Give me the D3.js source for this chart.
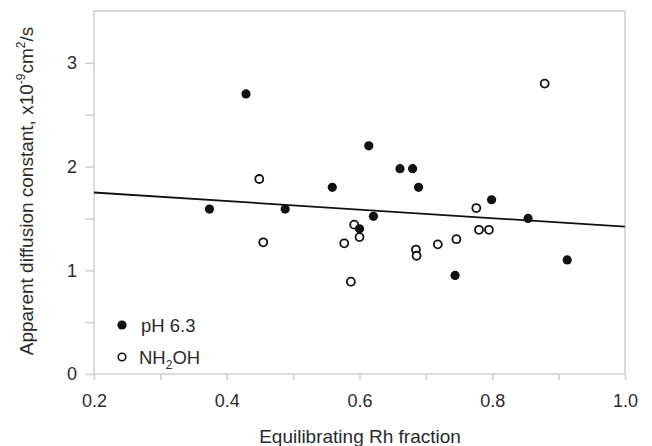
<!DOCTYPE html>
<html>
<head>
<meta charset="utf-8">
<script src="https://cdn.jsdelivr.net/npm/d3@7"></script>
<style>
  html, body { margin: 0; padding: 0; background: #fff; }
  svg { display: block; font-family: "Liberation Sans", Arial, sans-serif; }
</style>
</head>
<body>
<svg id="chart" width="652" height="446"></svg>
<script>
// ---- data ----
const phX = [0.374, 0.429, 0.488, 0.559, 0.600, 0.614, 0.621, 0.661, 0.680, 0.689, 0.744, 0.799, 0.854, 0.913];
const phY = [1.59, 2.70, 1.59, 1.80, 1.40, 2.20, 1.52, 1.98, 1.98, 1.80, 0.95, 1.68, 1.50, 1.10];
const nhX = [0.449, 0.455, 0.577, 0.587, 0.592, 0.600, 0.685, 0.686, 0.718, 0.746, 0.776, 0.780, 0.795, 0.879];
const nhY = [1.88, 1.27, 1.26, 0.89, 1.44, 1.32, 1.20, 1.14, 1.25, 1.30, 1.60, 1.39, 1.39, 2.80];
const fitX = [0.2, 1.0];
const fitY = [1.75, 1.42];
const xTicks = [0.2, 0.3, 0.4, 0.5, 0.6, 0.7, 0.8, 0.9, 1.0];
const xTickLabels = ["0.2", "", "0.4", "", "0.6", "", "0.8", "", "1.0"];
const yTicks = [0, 0.5, 1, 1.5, 2, 2.5, 3];
const yTickLabels = ["0", "", "1", "", "2", "", "3"];
const legendLabels = ["pH 6.3", "NH2OH"];

// ---- layout ----
const svg = d3.select("#chart");
const L = 94, R = 625, T = 11, B = 374;
const x = d3.scaleLinear().domain([0.2, 1.0]).range([L, R]);
const y = d3.scaleLinear().domain([0, 3.5]).range([B, T]);
const frameColor = "#cfcfcf";
const textColor = "#2b2b2b";
const ff = "Liberation Sans, Arial, sans-serif";

// frame
svg.append("rect").attr("x", L).attr("y", T).attr("width", R - L).attr("height", B - T)
  .attr("fill", "none").attr("stroke", frameColor).attr("stroke-width", 1.5);

// x axis
const xAxis = d3.axisBottom(x).tickValues(xTicks).tickSize(6).tickPadding(14)
  .tickFormat((d, i) => xTickLabels[i]);
const gx = svg.append("g").attr("transform", `translate(0,${B})`).call(xAxis);
gx.select(".domain").remove();
gx.selectAll(".tick line").attr("stroke", frameColor).attr("stroke-width", 1.5);
gx.selectAll(".tick text").attr("fill", textColor).attr("font-size", 18).attr("font-family", ff);

// y axis
const yAxis = d3.axisLeft(y).tickValues(yTicks).tickSize(9).tickPadding(8)
  .tickFormat((d, i) => yTickLabels[i]);
const gy = svg.append("g").attr("transform", `translate(${L},0)`).call(yAxis);
gy.select(".domain").remove();
gy.selectAll(".tick line").attr("stroke", frameColor).attr("stroke-width", 1.5);
gy.selectAll(".tick text").attr("fill", textColor).attr("font-size", 18).attr("font-family", ff);

// fit line
const fit = fitX.map((v, i) => [v, fitY[i]]);
svg.append("path").datum(fit)
  .attr("d", d3.line().x(d => x(d[0])).y(d => y(d[1])))
  .attr("stroke", "#111").attr("stroke-width", 1.8).attr("fill", "none");

// points
const ph = phX.map((v, i) => [v, phY[i]]);
const nh = nhX.map((v, i) => [v, nhY[i]]);
svg.append("g").selectAll("circle").data(nh).join("circle")
  .attr("cx", d => x(d[0])).attr("cy", d => y(d[1])).attr("r", 4)
  .attr("fill", "#fff").attr("stroke", "#111").attr("stroke-width", 1.8);
svg.append("g").selectAll("circle").data(ph).join("circle")
  .attr("cx", d => x(d[0])).attr("cy", d => y(d[1])).attr("r", 4.6)
  .attr("fill", "#111");

// legend
const lg = svg.append("g");
lg.append("circle").attr("cx", 122).attr("cy", 325).attr("r", 4.6).attr("fill", "#111");
lg.append("text").attr("x", 141).attr("y", 332).attr("font-size", 18.5).attr("fill", textColor)
  .text(legendLabels[0]);
lg.append("circle").attr("cx", 122).attr("cy", 357).attr("r", 3.8)
  .attr("fill", "#fff").attr("stroke", "#111").attr("stroke-width", 1.6);
const t2 = lg.append("text").attr("x", 139).attr("y", 364).attr("font-size", 18.5).attr("fill", textColor);
t2.append("tspan").text("NH");
t2.append("tspan").attr("font-size", 12).attr("dy", 5).text("2");
t2.append("tspan").attr("dy", -5).text("OH");

// axis titles
svg.append("text").attr("x", 360).attr("y", 443).attr("text-anchor", "middle")
  .attr("font-size", 19).attr("fill", textColor).text("Equilibrating Rh fraction");

const yt = svg.append("text").attr("transform", "translate(33,191) rotate(-90)")
  .attr("text-anchor", "middle").attr("font-size", 19).attr("fill", textColor);
yt.append("tspan").text("Apparent diffusion constant, x10");
yt.append("tspan").attr("font-size", 12).attr("dy", -8).text("-9");
yt.append("tspan").attr("dy", 8).text("cm");
yt.append("tspan").attr("font-size", 12).attr("dy", -8).text("2");
yt.append("tspan").attr("dy", 8).text("/s");
</script>
</body>
</html>
